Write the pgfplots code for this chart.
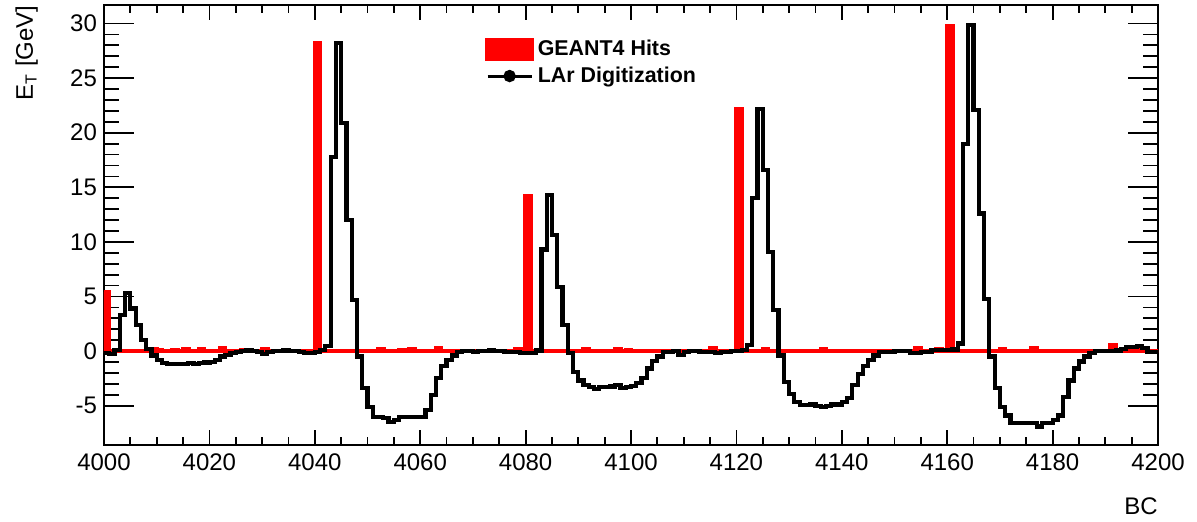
\documentclass[border=0pt]{standalone}
\usepackage{fontspec}
\setmainfont{Liberation Sans}
\usepackage{pgfplots}
\pgfplotsset{compat=1.18}
\usepackage{pgfplotstable}

\pgfplotstableread{
x y
4000 -0.15
4001 -0.25
4002 0.1
4003 3.3
4004 5.3
4005 3.9
4006 2.4
4007 1.0
4008 0.2
4009 -0.4
4010 -0.8
4011 -1.1
4012 -1.2
4013 -1.15
4014 -1.2
4015 -1.15
4016 -1.1
4017 -1.15
4018 -1.1
4019 -1.05
4020 -1.0
4021 -0.8
4022 -0.5
4023 -0.35
4024 -0.15
4025 -0.05
4026 0.0
4027 0.05
4028 0.0
4029 -0.05
4030 -0.3
4031 -0.05
4032 0.0
4033 0.0
4034 0.05
4035 0.0
4036 0.0
4037 -0.05
4038 -0.15
4039 -0.15
4040 -0.1
4041 0.1
4042 0.5
4043 17.8
4044 28.2
4045 20.9
4046 12.0
4047 4.7
4048 -0.5
4049 -3.4
4050 -5.1
4051 -6.0
4052 -6.0
4053 -6.1
4054 -6.5
4055 -6.3
4056 -6.05
4057 -6.05
4058 -6.05
4059 -6.05
4060 -6.0
4061 -5.4
4062 -4.0
4063 -2.5
4064 -1.4
4065 -0.8
4066 -0.4
4067 -0.05
4068 0.0
4069 0.0
4070 -0.05
4071 0.0
4072 0.0
4073 0.05
4074 0.0
4075 0.0
4076 -0.05
4077 -0.05
4078 -0.1
4079 -0.15
4080 -0.2
4081 -0.15
4082 0.05
4083 9.3
4084 14.3
4085 10.6
4086 5.9
4087 2.4
4088 -0.2
4089 -1.9
4090 -2.7
4091 -3.1
4092 -3.3
4093 -3.5
4094 -3.3
4095 -3.3
4096 -3.25
4097 -3.1
4098 -3.4
4099 -3.3
4100 -3.2
4101 -2.9
4102 -2.5
4103 -1.6
4104 -0.9
4105 -0.5
4106 -0.1
4107 -0.1
4108 0.0
4109 -0.35
4110 -0.05
4111 0.0
4112 0.0
4113 -0.05
4114 -0.05
4115 -0.1
4116 -0.2
4117 -0.05
4118 -0.05
4119 0.0
4120 0.0
4121 0.1
4122 0.55
4123 14.0
4124 22.2
4125 16.6
4126 9.1
4127 3.8
4128 -0.4
4129 -2.8
4130 -3.9
4131 -4.65
4132 -4.95
4133 -4.95
4134 -4.9
4135 -5.05
4136 -5.1
4137 -5.0
4138 -4.9
4139 -4.9
4140 -4.65
4141 -4.3
4142 -3.1
4143 -2.1
4144 -1.4
4145 -0.85
4146 -0.4
4147 -0.05
4148 -0.05
4149 -0.05
4150 0.0
4151 0.0
4152 0.0
4153 -0.2
4154 -0.15
4155 -0.05
4156 -0.05
4157 0.1
4158 0.1
4159 0.1
4160 0.1
4161 0.15
4162 0.7
4163 19.0
4164 29.9
4165 22.1
4166 12.6
4167 4.8
4168 -0.5
4169 -3.4
4170 -5.1
4171 -5.9
4172 -6.6
4173 -6.6
4174 -6.6
4175 -6.6
4176 -6.6
4177 -6.9
4178 -6.6
4179 -6.6
4180 -6.3
4181 -5.9
4182 -4.2
4183 -2.7
4184 -1.6
4185 -0.95
4186 -0.5
4187 -0.2
4188 0.0
4189 0.0
4190 0.0
4191 0.0
4192 0.05
4193 0.2
4194 0.4
4195 0.4
4196 0.45
4197 0.3
4198 -0.05
4199 -0.1
4200 -0.1
}\lardata

\pgfplotstableread{
x y
4000 5.4
4001 0
4009 0.15
4010 0.1
4011 0
4013 0.1
4014 0
4015 0.2
4016 0
4018 0.2
4019 0
4022 0.3
4023 0
4026 0.1
4027 0
4030 0.2
4031 0
4040 28.2
4041 0
4052 0.15
4053 0
4056 0.1
4057 0
4058 0.2
4059 0
4063 0.25
4064 0
4078 0.2
4079 0
4080 14.2
4081 0
4091 0.2
4092 0
4097 0.15
4098 0
4099 0.1
4100 0
4115 0.3
4116 0
4120 22.2
4121 0
4125 0.15
4126 0
4136 0.2
4137 0
4154 0.3
4155 0
4158 0.15
4159 0
4160 29.75
4161 0
4170 0.2
4171 0
4176 0.25
4177 0
4191 0.5
4192 0
4196 0.3
4198 0
4200 0
}\geantdata

\begin{document}
\begin{tikzpicture}
\pgfplotsset{
  common/.style={
    scale only axis, width=527pt, height=220pt,
    xmin=4000, xmax=4200, ymin=-8.6, ymax=31.7,
    axis line style={line width=1pt},
    tick style={line width=0.9pt, black},
    tick align=inside,
    /pgf/number format/assume math mode=true,
    /pgf/number format/set thousands separator={},
    tick label style={font=\fontsize{12}{14}\selectfont},
  }
}
\begin{axis}[common, xtick=\empty, ytick={-5,0,...,30}, minor y tick num=4,
  major tick length=15pt, minor tick length=7.5pt]
\end{axis}
\begin{axis}[common, ytick=\empty, xtick={4000,4020,...,4200}, minor x tick num=3,
  major tick length=7.5pt, minor tick length=4pt,
  xticklabel style={yshift=-1pt},
  legend cell align=left,
  legend style={draw=none, fill=none, at={(rel axis cs:0.3615,0.925)}, anchor=north west,
    inner sep=0pt, row sep=3pt, column sep=2pt,
    font=\fontsize{10.7}{12.8}\selectfont\bfseries, nodes={inner sep=0pt}}]
\addplot[const plot, draw=red, fill=red, line width=2.2pt, line join=miter,
  legend image code/.code={\fill[red] (0pt,-4.5pt) rectangle (22pt,4.5pt);}]
  table[x=x,y=y]{\geantdata} \closedcycle;
\addlegendentry{GEANT4 Hits}
\addplot[const plot, black, line width=2.1pt, line join=miter,
  legend image code/.code={\draw[line width=1.5pt] (0pt,0pt) -- (22pt,0pt); \fill (11pt,0pt) circle (2pt);}]
  table[x=x,y=y]{\lardata};
\addlegendentry{LAr Digitization}
\coordinate (sw) at (rel axis cs:0,0);
\coordinate (ne) at (rel axis cs:1,1);
\coordinate (tl) at (rel axis cs:0,1);
\coordinate (br) at (rel axis cs:1,0);
\end{axis}
\node[rotate=90, anchor=base east, inner sep=0pt, font=\fontsize{12}{14}\selectfont] at ([xshift=-35.5pt]tl) {E\textsubscript{T} [GeV]};
\node[anchor=base east, inner sep=0pt, font=\fontsize{12}{14}\selectfont] at ([yshift=-35pt]br) {BC};
\pgfresetboundingbox
\path ([xshift=-52pt,yshift=-38.5pt]sw) rectangle ([xshift=19.5pt,yshift=2.5pt]ne);
\end{tikzpicture}
\end{document}
